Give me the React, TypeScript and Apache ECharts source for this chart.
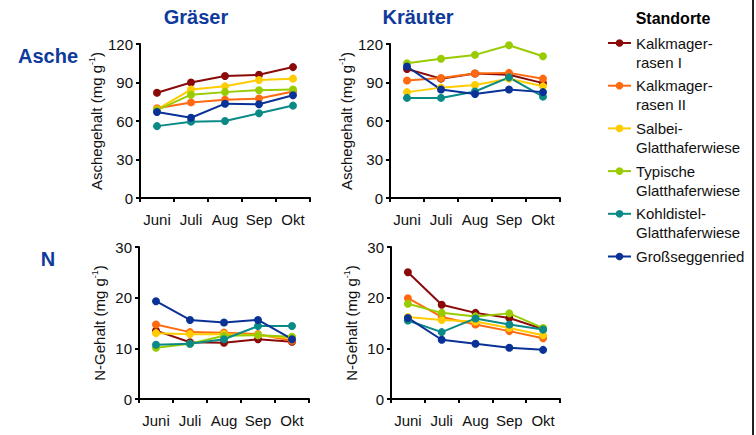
import React, { useEffect, useRef } from "react";
import * as echarts from "echarts";

const months = ["Juni", "Juli", "Aug", "Sep", "Okt"];
const siteNames = [
  "Kalkmagerrasen I",
  "Kalkmagerrasen II",
  "Salbei-Glatthaferwiese",
  "Typische Glatthaferwiese",
  "Kohldistel-Glatthaferwiese",
  "Großseggenried",
];
const legendLabels = [
  "Kalkmager-\nrasen I",
  "Kalkmager-\nrasen II",
  "Salbei-\nGlatthaferwiese",
  "Typische\nGlatthaferwiese",
  "Kohldistel-\nGlatthaferwiese",
  "Großseggenried",
];
const siteColors = ["#8a0a0a", "#ff6a10", "#ffcc00", "#99cc00", "#0a8a86", "#0a3296"];

const colTitles = ["Gräser", "Kräuter"];
const rowTitles = ["Asche", "N"];

// Gräser, Asche
const graeserAsche = [
  [82, 90, 95, 96, 102],
  [70, 74.5, 76.5, 77.5, 83],
  [69, 84.5, 87, 92, 93],
  [68.5, 80.5, 82.5, 84, 84.5],
  [56, 59.5, 60, 66, 72],
  [67, 62.5, 73.5, 73, 80],
];
// Kräuter, Asche
const kraeuterAsche = [
  [100.5, 93, 97, 96, 89.5],
  [91.5, 93.5, 97, 97.5, 93],
  [82.5, 86, 88, 93, 87],
  [105, 108.5, 111.5, 119, 110.5],
  [78, 78, 83, 94, 79],
  [102.5, 84.5, 81, 84.5, 82.5],
];
// Gräser, N
const graeserN = [
  [13.5, 11.2, 11.1, 11.8, 11.3],
  [14.7, 13.2, 13.1, 12.8, 11.5],
  [13, 12.8, 12.8, 12.6, 12],
  [10.1, 10.9, 12.5, 12.6, 12.3],
  [10.7, 10.9, 11.8, 14.4, 14.4],
  [19.3, 15.6, 15.1, 15.6, 11.8],
];
// Kräuter, N
const kraeuterN = [
  [25, 18.6, 17, 16, 13.8],
  [19.9, 16.2, 14.7, 13.4, 12],
  [16.2, 15.6, 15.3, 14, 12.6],
  [18.8, 17, 16.3, 16.9, 14],
  [15.5, 13.2, 15.9, 14.7, 13.7],
  [16, 11.7, 10.9, 10.1, 9.7],
];

const ascheTicks = { min: 0, max: 120, interval: 30 };
const nTicks = { min: 0, max: 30, interval: 10 };
const yNames = ["Aschegehalt (mg g{s|-1})", "N-Gehalt (mg g{s|-1})"];

const FONT = "'Liberation Sans', Arial, Helvetica, sans-serif";
const TITLE_COLOR = "#0f3a9c";

export default function App() {
  const ref = useRef<HTMLDivElement>(null);

  useEffect(() => {
    if (!ref.current) return;
    const chart = echarts.init(ref.current, null, { renderer: "svg" });

    const grids = [
      { left: 140, top: 44, width: 170, height: 154 },
      { left: 390, top: 44, width: 170, height: 154 },
      { left: 139, top: 247, width: 170, height: 152 },
      { left: 391, top: 247, width: 169, height: 152 },
    ];
    const panels = [graeserAsche, kraeuterAsche, graeserN, kraeuterN];
    const panelRow = [0, 0, 1, 1];

    const axisLine = { show: true, lineStyle: { color: "#000", width: 2 } };
    const axisTick = { show: true, length: 4, lineStyle: { color: "#000", width: 2 } };

    const xAxis = grids.map((_, i) => ({
      type: "category",
      gridIndex: i,
      data: months,
      boundaryGap: true,
      axisLine,
      axisTick: { ...axisTick, alignWithLabel: false, interval: 0 },
      axisLabel: { interval: 0, hideOverlap: false, color: "#111", fontSize: 15, fontFamily: FONT, margin: 14 },
      splitLine: { show: false },
    }));

    const yAxis = grids.map((_, i) => {
      const t = panelRow[i] === 0 ? ascheTicks : nTicks;
      return {
        type: "value",
        gridIndex: i,
        min: t.min,
        max: t.max,
        interval: t.interval,
        axisLine,
        axisTick,
        axisLabel: { color: "#111", fontSize: 15, fontFamily: FONT, margin: 7 },
        splitLine: { show: false },
        name: yNames[panelRow[i]],
        nameLocation: "middle",
        nameGap: 31,
        nameTextStyle: {
          color: "#111",
          fontSize: 15,
          fontFamily: FONT,
          rich: {
            s: { fontSize: 9, fontFamily: FONT, color: "#111", verticalAlign: "top", lineHeight: 18 },
          },
        },
      };
    });

    const series: any[] = [];
    panels.forEach((panel, pi) => {
      panel.forEach((vals, si) => {
        series.push({
          type: "line",
          name: siteNames[si],
          xAxisIndex: pi,
          yAxisIndex: pi,
          data: vals,
          symbol: "circle",
          symbolSize: 8,
          showSymbol: true,
          lineStyle: { color: siteColors[si], width: 2 },
          itemStyle: { color: siteColors[si] },
          emphasis: { disabled: true },
        });
      });
    });

    const graphics: any[] = [];
    const titleFont = `bold 20px ${FONT}`;
    const centered = { textAlign: "center", textVerticalAlign: "middle", align: "center", verticalAlign: "middle" };
    graphics.push({ type: "text", x: 196, y: 17, style: { text: colTitles[0], font: titleFont, fill: TITLE_COLOR, ...centered } });
    graphics.push({ type: "text", x: 418, y: 17, style: { text: colTitles[1], font: titleFont, fill: TITLE_COLOR, ...centered } });
    graphics.push({ type: "text", x: 48, y: 56, style: { text: rowTitles[0], font: titleFont, fill: TITLE_COLOR, ...centered } });
    graphics.push({ type: "text", x: 48, y: 259, style: { text: rowTitles[1], font: titleFont, fill: TITLE_COLOR, ...centered } });

    // Legend
    graphics.push({
      type: "text", x: 673, y: 18,
      style: { text: "Standorte", font: `bold 16px ${FONT}`, fill: "#000", ...centered },
    });
    legendLabels.forEach((lab, i) => {
      const y = 43 + i * 42.7;
      graphics.push({
        type: "line",
        shape: { x1: 608, y1: y, x2: 631, y2: y },
        style: { stroke: siteColors[i], lineWidth: 2 },
      });
      graphics.push({
        type: "circle",
        shape: { cx: 619.5, cy: y, r: 3.8 },
        style: { fill: siteColors[i] },
      });
      graphics.push({
        type: "text", x: 636, y: y - 9.5,
        style: { text: lab, font: `15px ${FONT}`, fill: "#111", lineHeight: 19, textAlign: "left", textVerticalAlign: "top", align: "left", verticalAlign: "top" },
      });
    });

    // right border line
    graphics.push({
      type: "rect",
      shape: { x: 752, y: 0, width: 2, height: 435 },
      style: { fill: "#222" },
    });

    chart.setOption({
      animation: false,
      backgroundColor: "#fff",
      textStyle: { fontFamily: FONT },
      grid: grids.map((g) => ({ ...g, containLabel: false })),
      xAxis,
      yAxis,
      series,
      graphic: { elements: graphics },
    });

    return () => chart.dispose();
  }, []);

  return (
    <div
      ref={ref}
      style={{ position: "absolute", left: 0, top: 0, width: 756, height: 435 }}
    />
  );
}
